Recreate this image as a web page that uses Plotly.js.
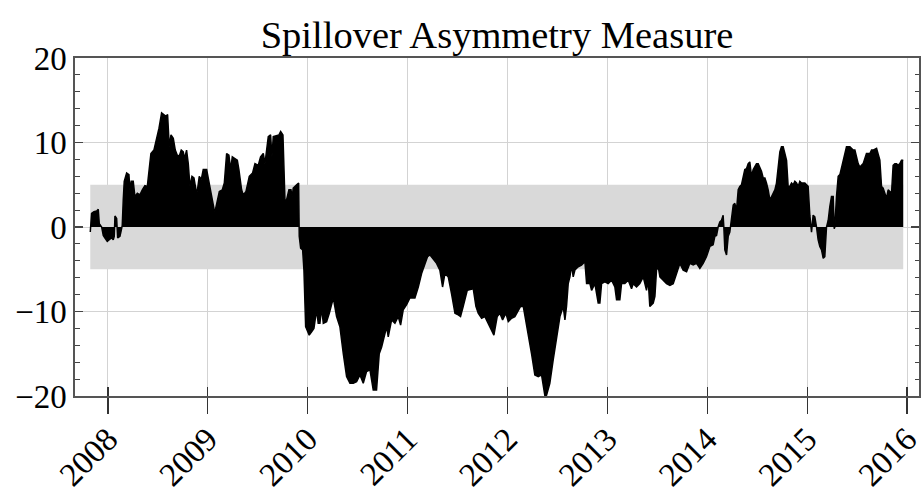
<!DOCTYPE html>
<html>
<head>
<meta charset="utf-8">
<script src="https://cdn.plot.ly/plotly-3.0.1.min.js"></script>
<style>html,body{margin:0;padding:0;background:#fff;}#chart{width:924px;height:495px;}</style>
</head>
<body>
<div id="chart"></div>
<script>
// Decimal-year time stamps of the spillover asymmetry measure
const spamYears = [
2007.823,2007.836,2007.860,2007.887,2007.903,2007.913,2007.937,2007.953,2007.970,2007.993,
2008.013,2008.037,2008.053,2008.063,2008.070,2008.087,2008.097,2008.120,2008.133,2008.143,
2008.153,2008.163,2008.187,2008.210,2008.220,2008.233,2008.253,2008.270,2008.294,2008.320,
2008.344,2008.370,2008.394,2008.410,2008.430,2008.460,2008.487,2008.511,2008.537,2008.561,
2008.581,2008.597,2008.614,2008.631,2008.654,2008.674,2008.694,2008.714,2008.734,2008.754,
2008.767,2008.787,2008.804,2008.821,2008.841,2008.861,2008.881,2008.894,2008.914,2008.934,
2008.954,2008.988,2009.011,2009.038,2009.061,2009.071,2009.088,2009.115,2009.145,2009.165,
2009.188,2009.211,2009.228,2009.245,2009.271,2009.295,2009.311,2009.338,2009.355,2009.382,
2009.415,2009.448,2009.472,2009.505,2009.528,2009.555,2009.572,2009.605,2009.628,2009.642,
2009.655,2009.689,2009.712,2009.729,2009.752,2009.772,2009.788,2009.812,2009.832,2009.845,
2009.855,2009.889,2009.909,2009.915,2009.929,2009.949,2009.962,2009.979,2010.005,
2010.015,2010.039,2010.062,2010.089,2010.105,2010.122,2010.139,2010.156,2010.189,2010.216,
2010.256,2010.289,2010.322,2010.356,2010.389,2010.423,2010.456,2010.489,2010.523,2010.556,
2010.589,2010.623,2010.656,2010.689,2010.716,2010.740,2010.790,2010.806,2010.840,2010.873,
2010.906,2010.930,2010.956,2010.990,2011.023,2011.073,2011.107,2011.140,2011.173,2011.200,
2011.223,2011.250,2011.290,2011.323,2011.350,2011.374,2011.407,2011.440,2011.474,2011.507,
2011.530,2011.557,2011.597,2011.657,2011.684,2011.707,2011.741,2011.774,2011.824,2011.864,
2011.897,2011.924,2011.951,2011.984,2012.008,2012.041,2012.074,2012.131,2012.158,2012.208,
2012.241,2012.274,2012.308,2012.341,2012.375,
2012.391,2012.424,2012.458,2012.491,2012.525,2012.558,2012.575,2012.591,2012.608,2012.625,
2012.641,2012.658,2012.675,2012.708,2012.741,2012.775,2012.792,2012.825,2012.842,2012.875,
2012.908,2012.925,2012.942,2012.975,2013.008,2013.042,2013.075,2013.092,2013.125,2013.142,
2013.175,2013.209,2013.242,2013.259,2013.292,2013.325,2013.359,2013.392,2013.409,2013.425,
2013.459,2013.476,2013.492,2013.509,2013.526,2013.559,2013.592,2013.626,2013.659,2013.693,
2013.726,2013.759,2013.793,2013.826,2013.859,2013.893,2013.926,
2013.959,2013.993,2014.026,2014.059,2014.076,2014.093,2014.109,2014.126,2014.143,2014.159,
2014.166,2014.176,2014.193,2014.210,2014.226,2014.243,2014.260,2014.276,2014.293,2014.310,
2014.326,2014.343,2014.376,2014.393,2014.410,2014.426,2014.443,2014.460,2014.493,2014.510,
2014.527,2014.543,2014.560,2014.577,2014.593,2014.610,2014.627,2014.643,2014.660,2014.677,
2014.693,2014.710,2014.727,2014.743,2014.760,2014.777,2014.794,2014.810,2014.827,2014.844,
2014.860,2014.877,2014.894,2014.910,2014.927,2014.944,2014.960,2014.977,2014.994,2015.010,
2015.027,2015.044,2015.060,2015.077,2015.094,2015.110,2015.127,2015.144,2015.161,2015.177,
2015.194,2015.211,2015.227,2015.244,2015.261,2015.271,2015.277,2015.294,2015.311,2015.328,
2015.344,2015.361,2015.394,2015.428,2015.461,2015.478,2015.494,2015.511,2015.528,2015.544,
2015.561,2015.594,2015.628,2015.645,2015.661,2015.695,2015.728,2015.745,2015.761,2015.778,
2015.795,2015.811,2015.828,2015.845,2015.861,2015.878,2015.895,2015.911,2015.928,2015.945,
2015.962
];

// Spillover asymmetry measure values
const spamValues = [
-0.6,1.6,1.8,1.9,2.1,0.4,0.0,-1.0,-1.3,-1.7,
-1.5,-1.3,-1.5,-1.1,1.3,1.0,-1.3,-1.1,-0.4,0.2,
3.2,5.4,6.4,6.2,4.4,5.4,5.4,3.6,4.0,3.8,
4.4,4.9,4.8,6.4,8.7,9.1,10.5,11.7,13.5,13.3,
13.1,13.3,9.5,10.9,10.5,9.1,8.5,8.4,9.1,8.9,
8.1,9.1,7.5,4.8,6.0,5.8,4.4,4.2,6.0,5.6,
6.8,6.8,5.2,3.6,2.2,1.8,2.8,4.2,4.4,5.2,
8.7,8.5,6.8,8.3,8.1,7.9,6.8,4.4,3.8,4.2,
6.0,6.4,7.5,7.3,8.3,8.7,7.5,10.7,10.9,8.3,
10.7,10.8,10.9,11.3,10.9,3.2,3.2,4.4,4.4,3.6,
4.6,5.0,5.2,-1.1,-2.5,-2.7,-5.1,-11.8,-12.4,
-12.8,-12.4,-12.0,-9.8,-11.4,-11.4,-9.6,-11.4,-11.2,-10.2,
-8.4,-10.6,-11.8,-15.0,-17.7,-18.5,-18.5,-18.3,-17.5,-18.5,
-17.1,-16.9,-19.3,-19.3,-15.0,-14.2,-11.8,-13.0,-11.0,-11.4,
-10.6,-11.6,-9.8,-9.2,-8.4,-8.4,-7.1,-5.5,-4.3,-3.5,
-3.3,-3.7,-4.3,-5.1,-7.1,-5.5,-5.9,-7.9,-10.2,-10.4,
-10.6,-9.4,-7.5,-7.3,-9.4,-10.2,-10.8,-10.6,-11.8,-12.8,
-10.6,-10.2,-11.0,-10.2,-11.2,-10.8,-10.6,-9.4,-9.4,-12.6,
-15.0,-17.5,-17.7,-17.5,-20.0,
-19.9,-18.5,-15.7,-13.0,-10.6,-9.4,-11.0,-9.4,-6.7,-5.9,
-4.5,-5.9,-5.1,-4.7,-4.5,-4.1,-6.7,-6.7,-7.5,-6.7,
-9.0,-9.0,-6.7,-6.5,-6.7,-6.3,-7.1,-8.6,-8.6,-6.7,
-6.7,-6.3,-7.3,-6.7,-7.1,-6.7,-5.9,-7.5,-6.3,-9.4,
-9.0,-8.2,-5.1,-4.7,-5.9,-6.3,-6.7,-6.9,-6.7,-5.5,
-4.3,-5.1,-5.3,-4.3,-4.5,-4.3,-4.9,
-4.3,-3.5,-2.3,-2.1,-1.1,-1.0,0.0,0.6,0.8,1.4,
0.0,-2.7,-3.3,-1.1,-0.6,0.8,2.6,2.8,2.0,4.4,
4.8,5.0,6.8,6.9,7.5,7.7,6.0,6.8,7.5,7.5,
7.1,6.6,5.8,5.8,5.2,4.4,3.2,3.6,4.0,4.4,
5.2,7.1,8.9,9.5,9.5,8.7,7.9,4.8,4.8,5.2,
5.0,5.4,5.2,4.8,5.4,5.2,5.2,5.2,5.0,4.8,
1.4,-0.6,1.4,1.2,0.0,-1.5,-2.3,-2.7,-3.7,-3.5,
0.0,0.8,2.4,3.6,3.6,-0.2,0.0,3.6,6.0,6.2,
7.1,7.9,9.5,9.5,9.1,9.1,8.3,7.5,7.1,7.3,
7.5,8.7,8.7,9.1,9.1,9.3,7.9,4.8,4.6,4.0,
3.4,4.4,4.2,4.0,7.3,7.5,7.5,7.3,7.5,7.9,
7.9
];

// Significance band limits
const bandUpper = 5;
const bandLower = -5;

// Axis ticks
const yearTicks = [2008, 2009, 2010, 2011, 2012, 2013, 2014, 2015, 2016];
const yearTickText = ["2008", "2009", "2010", "2011", "2012", "2013", "2014", "2015", "2016"];
const valueTicks = [-20, -10, 0, 10, 20];

const x0 = spamYears[0], x1 = spamYears[spamYears.length - 1];
const xRange = [2007.67, 2016.12];

const band = {
  x: [x0, x1, x1, x0, x0],
  y: [bandUpper, bandUpper, bandLower, bandLower, bandUpper],
  type: 'scatter', mode: 'lines', fill: 'toself',
  fillcolor: '#d9d9d9', line: {width: 0, color: '#d9d9d9'},
  hoverinfo: 'skip', showlegend: false
};

const spam = {
  x: spamYears, y: spamValues,
  type: 'scatter', mode: 'lines', fill: 'tozeroy',
  fillcolor: '#000000', line: {color: '#000000', width: 1.5},
  showlegend: false
};

const tickHelper = {
  x: [], y: [], xaxis: 'x2', yaxis: 'y', type: 'scatter', mode: 'lines',
  hoverinfo: 'skip', showlegend: false
};

const gridColor = '#d3d3d3';
const frameColor = '#555555';

const layout = {
  width: 924, height: 495,
  margin: {l: 75, r: 5, t: 58, b: 99, pad: 0},
  paper_bgcolor: '#ffffff', plot_bgcolor: '#ffffff',
  font: {family: '"Liberation Serif", "DejaVu Serif", serif', color: '#000000', size: 32},
  showlegend: false,
  title: {
    text: 'Spillover Asymmetry Measure',
    font: {size: 38.5, color: '#000000'},
    x: 0.5, xref: 'paper', xanchor: 'center',
    y: 0.93, yref: 'container', yanchor: 'middle'
  },
  xaxis: {
    range: xRange, tickmode: 'array', tickvals: yearTicks, ticktext: yearTickText,
    tickangle: -45, ticks: 'outside', ticklen: 16, tickwidth: 1.2, tickcolor: '#333333',
    ticklabelshift: 0, ticklabelstandoff: -7, ticklabeloverflow: 'allow',
    showgrid: true, gridcolor: gridColor, gridwidth: 1,
    showline: true, linecolor: frameColor, linewidth: 1.6, mirror: true,
    zeroline: false, tickfont: {size: 33}
  },
  xaxis2: {
    overlaying: 'x', anchor: 'y', side: 'bottom',
    range: xRange, tickmode: 'array', tickvals: yearTicks,
    ticks: 'inside', ticklen: 9, tickwidth: 1.2, tickcolor: '#333333',
    showticklabels: false, showgrid: false, showline: false, zeroline: false
  },
  yaxis: {
    range: [-20, 20], tickmode: 'array', tickvals: valueTicks,
    ticks: 'inside', ticklen: 8, tickwidth: 1.2, tickcolor: '#444444',
    showgrid: true, gridcolor: gridColor, gridwidth: 1,
    showline: true, linecolor: frameColor, linewidth: 1.6, mirror: 'ticks',
    zeroline: false, tickfont: {size: 33},
    minor: {tickmode: 'linear', tick0: 0, dtick: 2, ticks: 'inside', ticklen: 4.5, tickwidth: 1, tickcolor: '#444444', showgrid: false}
  }
};

Plotly.newPlot('chart', [band, spam, tickHelper], layout, {displayModeBar: false, staticPlot: true});
</script>
</body>
</html>
